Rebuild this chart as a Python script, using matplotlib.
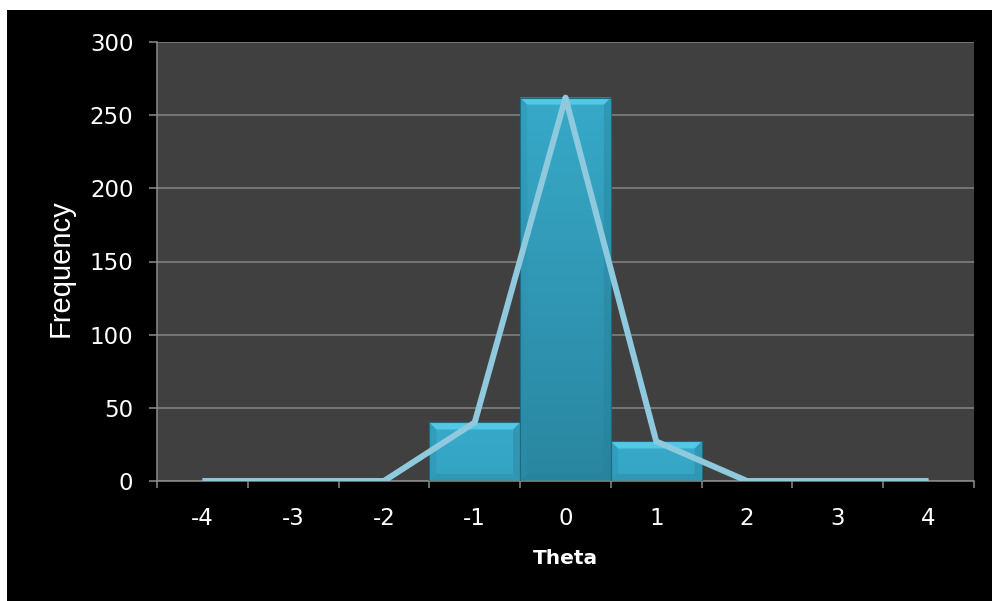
import numpy as np
import matplotlib.pyplot as plt
from matplotlib.patches import Rectangle, Polygon
from matplotlib.colors import LinearSegmentedColormap

plt.rcParams['axes.unicode_minus'] = False

theta = [-4, -3, -2, -1, 0, 1, 2, 3, 4]
freq = [0, 0, 0, 40, 262, 27, 0, 0, 0]
yticks = [0, 50, 100, 150, 200, 250, 300]

fig = plt.figure(figsize=(9.92, 6.01), dpi=100)
fig.patch.set_facecolor('white')
# black panel behind the chart
fig.patches.append(Rectangle((7 / 992, 0), 1, 1 - 10 / 601, transform=fig.transFigure,
                             facecolor='black', edgecolor='none', zorder=-10))

ax = fig.add_axes([157 / 992, 120 / 601, 817 / 992, 439 / 601])
ax.set_zorder(5)
ax.set_facecolor('#404040')
ax.set_xlim(-4.5, 4.5)
ax.set_ylim(0, 300)

# px -> data scale for the bevel sizes
px_x = 9.0 / 817
px_y = 300.0 / 439

# shade darkens with depth below the bar top
cmap = LinearSegmentedColormap.from_list('bar', ['#2a86a0', '#37a9c9'])
top_h = max(freq)
for x, h in zip(theta, freq):
    if h <= 0:
        continue
    x0, x1 = x - 0.5, x + 0.5
    depth = np.linspace(h, 0, 256)  # bottom..top
    grad = (1 - depth / top_h).reshape(-1, 1)
    rect = Rectangle((x0, 0), 1, h, facecolor='none', edgecolor='none')
    ax.add_patch(rect)
    im = ax.imshow(grad, cmap=cmap, vmin=0, vmax=1, origin='lower',
                   extent=[x0, x1, 0, h], aspect='auto', zorder=2)
    im.set_clip_path(rect)
    dx, dy = 7 * px_x, 7 * px_y
    # bevel edges
    ax.add_patch(Polygon([(x0, h), (x1, h), (x1 - dx, h - dy), (x0 + dx, h - dy)],
                         facecolor='#52c8e6', edgecolor='none', zorder=3))
    ax.add_patch(Polygon([(x0, 0), (x1, 0), (x1 - dx, dy), (x0 + dx, dy)],
                         facecolor='#277f98', edgecolor='none', zorder=3, alpha=0.35))
    ax.add_patch(Polygon([(x0, 0), (x0 + dx, dy), (x0 + dx, h - dy), (x0, h)],
                         facecolor='#2a90ad', edgecolor='none', zorder=3, alpha=0.4))
    ax.add_patch(Polygon([(x1, 0), (x1 - dx, dy), (x1 - dx, h - dy), (x1, h)],
                         facecolor='#277f98', edgecolor='none', zorder=3, alpha=0.4))
    ax.add_patch(Rectangle((x0, 0), 1, h, facecolor='none', edgecolor='#1f6a80',
                           linewidth=0.8, zorder=3))

ax.plot(theta, freq, color='#8fc9de', linewidth=4.3, zorder=4,
        solid_joinstyle='round', solid_capstyle='butt')

ax.set_yticks(yticks)
ax.yaxis.grid(True, color='#858585', linewidth=1.1)
ax.set_axisbelow(True)
ax.set_xticks(theta)
ax.set_xticks(np.arange(-4.5, 4.6, 1), minor=True)

for s in ['top', 'right']:
    ax.spines[s].set_visible(False)
for s in ['left', 'bottom']:
    ax.spines[s].set_color('#8c8c8c')
    ax.spines[s].set_linewidth(1.1)

ax.tick_params(axis='y', colors='#8c8c8c', labelcolor='white', labelsize=16.5,
               length=6, width=1.1, pad=11)
ax.tick_params(axis='x', which='major', length=0, labelcolor='white',
               labelsize=16.5, pad=19)
ax.tick_params(axis='x', which='minor', colors='#8c8c8c', length=5, width=1.1)

fig.text(61 / 992, 1 - 268 / 601, 'Frequency', rotation=90, color='white',
         fontsize=21, family=['Liberation Sans', 'DejaVu Sans'],
         ha='center', va='center')
fig.text(565 / 992, 1 - 558 / 601, 'Theta', color='white', fontsize=14.5,
         fontweight='bold', ha='center', va='center')

fig.savefig('out.png', dpi=100, facecolor=fig.get_facecolor())
